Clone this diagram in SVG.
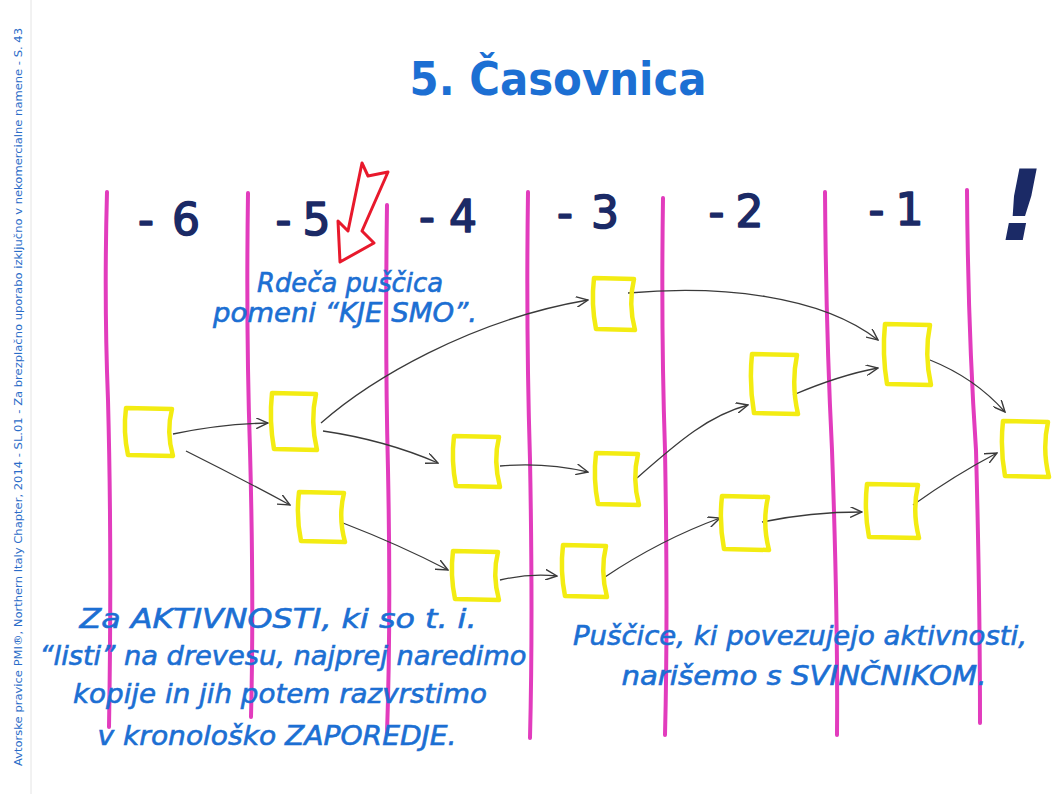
<svg xmlns="http://www.w3.org/2000/svg" width="1052" height="794" viewBox="0 0 1052 794">
<style>
.bg{fill:#ffffff}
.col{fill:none;stroke:#e23cbd;stroke-width:4;stroke-linecap:round}
.box{fill:none;stroke:#f3ec12;stroke-width:4.5;stroke-linejoin:round}
.con{fill:none;stroke:#3a3a3a;stroke-width:1.3;marker-end:url(#ah)}
.hand{font-family:"DejaVu Sans","Noto Sans",sans-serif;font-style:oblique;fill:#1c6fd3;stroke:#1c6fd3;stroke-width:0.6;font-size:26px;text-anchor:middle}
.num{font-family:"DejaVu Sans","Noto Sans",sans-serif;fill:#1b2a66;stroke:#1b2a66;stroke-width:1.6;stroke-linejoin:round;font-size:44px;text-anchor:middle}
.title{font-family:"DejaVu Sans","Noto Sans",sans-serif;font-weight:bold;fill:#1c6fd3;font-size:46px;text-anchor:middle}
.side{font-family:"DejaVu Sans","Noto Sans",sans-serif;fill:#2a6cc8;font-size:11px}
</style>
<defs>
<marker id="ah" viewBox="0 0 12 10" refX="11" refY="5" markerWidth="13" markerHeight="11" markerUnits="userSpaceOnUse" orient="auto">
<path d="M0,0 L11,5 L0,10" fill="none" stroke="#3a3a3a" stroke-width="1.3"/>
</marker>
</defs>
<rect class="bg" x="0" y="0" width="1052" height="794"/>
<line x1="31" y1="0" x2="31" y2="794" stroke="#e4e4e4" stroke-width="1"/>
<g id="side-note">
<text class="side" transform="translate(22,766) rotate(-90)" textLength="738" lengthAdjust="spacingAndGlyphs">Avtorske pravice PMI®, Northern Italy Chapter, 2014  -  SL.01  -  Za brezplačno uporabo izključno v nekomercialne namene  -  S.  43</text>
</g>
<g id="title">
<text class="title" x="558" y="95" textLength="297" lengthAdjust="spacingAndGlyphs">5. Časovnica</text>
</g>
<g id="columns">
<path class="col" d="M107,192 Q104,300 108,400 Q112,550 109,727"/>
<path class="col" d="M248,193 Q246,330 250,450 Q254,600 251,717"/>
<path class="col" d="M387,205 Q385,350 388,470 Q391,620 387,733"/>
<path class="col" d="M528,192 Q526,330 530,460 Q533,620 530,738"/>
<path class="col" d="M663,198 Q661,330 665,450 Q668,620 665,735"/>
<path class="col" d="M825,192 Q826,330 832,450 Q838,620 837,735"/>
<path class="col" d="M967,190 Q968,330 976,450 Q980,600 980,723"/>
</g>
<g id="column-labels">
<text class="num" x="169" y="235" textLength="62" lengthAdjust="spacing">-6</text>
<text class="num" x="303" y="235" textLength="55" lengthAdjust="spacing">-5</text>
<text class="num" x="448" y="232" textLength="58" lengthAdjust="spacing">-4</text>
<text class="num" x="588" y="228" textLength="62" lengthAdjust="spacing">-3</text>
<text class="num" x="736" y="227" textLength="55" lengthAdjust="spacing">-2</text>
<text class="num" x="896" y="225" textLength="55" lengthAdjust="spacing">-1</text>
<text x="1021" y="240" font-family="DejaVu Sans, sans-serif" font-weight="bold" font-style="oblique" font-size="98" fill="#1b2a66" text-anchor="middle">!</text>
</g>
<g id="red-arrow">
<path d="M362,163 L368,176 L388,172 L362,231 L374,243 L340,262 L338,221 L348,231 Z" fill="none" stroke="#e8192c" stroke-width="3" stroke-linejoin="round"/>
</g>
<g id="red-arrow-caption">
<text class="hand" x="350" y="292" textLength="186" lengthAdjust="spacingAndGlyphs">Rdeča puščica</text>
<text class="hand" x="345" y="322" textLength="264" lengthAdjust="spacingAndGlyphs">pomeni “KJE SMO”.</text>
</g>
<g id="connectors">
<path class="con" d="M173,434 Q220,424 268,423"/>
<path class="con" d="M186,451 Q240,478 290,505"/>
<path class="con" d="M321,423 C370,380 470,320 588,300"/>
<path class="con" d="M323,431 Q385,440 438,463"/>
<path class="con" d="M343,523 Q400,545 448,570"/>
<path class="con" d="M500,466 Q545,462 588,472"/>
<path class="con" d="M500,580 Q530,573 557,576"/>
<path class="con" d="M628,293 C720,285 820,295 878,340"/>
<path class="con" d="M637,478 C680,440 710,415 748,405"/>
<path class="con" d="M605,577 Q660,540 720,518"/>
<path class="con" d="M793,395 Q840,375 878,368"/>
<path class="con" d="M762,522 Q810,512 862,512"/>
<path class="con" d="M930,360 Q975,378 1005,412"/>
<path class="con" d="M913,505 Q955,475 997,453"/>
</g>
<g id="b1"><path class="box" d="M126,408 L172,409 Q166,432 173,456 L128,455 Q123,432 126,408 Z"/></g>
<g id="b2"><path class="box" d="M272,393 L316,394 Q310,421 317,450 L274,449 Q269,421 272,393 Z"/></g>
<g id="b3"><path class="box" d="M299,492 L344,493 Q338,517 345,542 L301,541 Q296,517 299,492 Z"/></g>
<g id="b4"><path class="box" d="M454,436 L499,437 Q493,461 500,487 L456,486 Q451,461 454,436 Z"/></g>
<g id="b5"><path class="box" d="M453,551 L498,552 Q492,575 499,600 L455,599 Q450,575 453,551 Z"/></g>
<g id="b6"><path class="box" d="M594,278 L634,279 Q628,304 635,330 L596,329 Q591,304 594,278 Z"/></g>
<g id="b7"><path class="box" d="M596,453 L638,454 Q632,479 639,505 L598,504 Q593,479 596,453 Z"/></g>
<g id="b8"><path class="box" d="M563,545 L606,546 Q600,571 607,597 L565,596 Q560,571 563,545 Z"/></g>
<g id="b9"><path class="box" d="M752,354 L797,355 Q791,384 798,414 L754,413 Q749,384 752,354 Z"/></g>
<g id="b10"><path class="box" d="M722,496 L768,497 Q762,523 769,550 L724,549 Q719,523 722,496 Z"/></g>
<g id="b11"><path class="box" d="M885,324 L930,325 Q924,354 931,385 L887,384 Q882,354 885,324 Z"/></g>
<g id="b12"><path class="box" d="M867,484 L918,485 Q912,511 919,538 L869,537 Q864,511 867,484 Z"/></g>
<g id="b13"><path class="box" d="M1003,421 L1048,422 Q1042,449 1049,477 L1005,476 Q1000,449 1003,421 Z"/></g>
<g id="note-left">
<text class="hand" x="278" y="628" textLength="397" lengthAdjust="spacingAndGlyphs">Za AKTIVNOSTI, ki so t. i.</text>
<text class="hand" x="283" y="665" textLength="487" lengthAdjust="spacingAndGlyphs">“listi” na drevesu, najprej naredimo</text>
<text class="hand" x="280" y="703" textLength="414" lengthAdjust="spacingAndGlyphs">kopije in jih potem razvrstimo</text>
<text class="hand" x="277" y="745" textLength="359" lengthAdjust="spacingAndGlyphs">v kronološko ZAPOREDJE.</text>
</g>
<g id="note-right">
<text class="hand" x="800" y="645" textLength="454" lengthAdjust="spacingAndGlyphs">Puščice, ki povezujejo aktivnosti,</text>
<text class="hand" x="804" y="685" textLength="365" lengthAdjust="spacingAndGlyphs">narišemo s SVINČNIKOM.</text>
</g>
</svg>
